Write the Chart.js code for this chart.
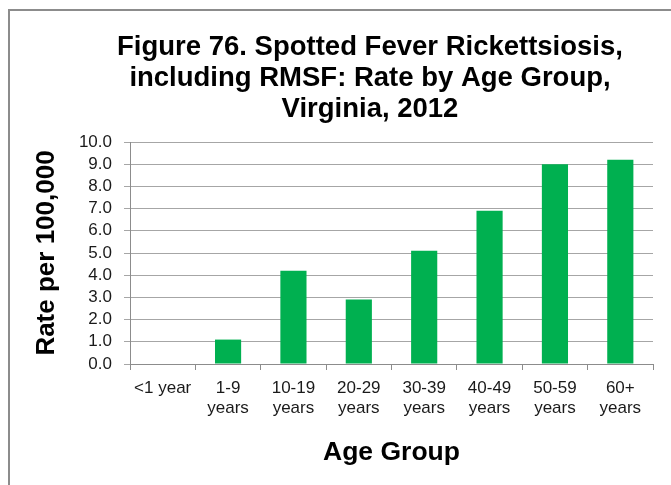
<!DOCTYPE html>
<html lang="en">
<head>
    <meta charset="UTF-8">
    <title>Spotted Fever Rickettsiosis by Age Group, Virginia, 2012</title>
    <script src="https://cdn.jsdelivr.net/npm/chart.js"></script>
    <style>
        html, body {
            margin: 0;
            padding: 0;
            background: #ffffff;
            overflow: hidden;
        }
        .frame {
            position: absolute;
            left: 8px;
            top: 9px;
            right: -20px;
            bottom: -20px;
            border-top: 2px solid #8c8c8c;
            border-left: 2px solid #8c8c8c;
        }
        .chart-container {
            position: absolute;
            left: 0;
            top: 0;
            width: 671px;
            height: 485px;
        }
    </style>
</head>
<body>
    <div class="frame"></div>
    <div class="chart-container">
        <canvas id="barChart"></canvas>
    </div>

    <script>
        // chart data
        const titleLines = [
            'Figure 76. Spotted Fever Rickettsiosis,',
            'including RMSF: Rate by Age Group,',
            'Virginia, 2012'
        ];
        const ageGroups = [
            '<1 year',
            ['1-9', 'years'],
            ['10-19', 'years'],
            ['20-29', 'years'],
            ['30-39', 'years'],
            ['40-49', 'years'],
            ['50-59', 'years'],
            ['60+', 'years']
        ];
        const rates = [0, 1.1, 4.2, 2.9, 5.1, 6.9, 9.0, 9.2];

        const fontFamily = '"Liberation Sans", Arial, sans-serif';

        // main title drawn above the plot, slightly left of centre like the original
        const figureTitle = {
            id: 'figureTitle',
            afterDraw(chart) {
                const ctx = chart.ctx;
                ctx.save();
                ctx.font = 'bold 27.5px ' + fontFamily;
                ctx.fillStyle = '#000000';
                ctx.textAlign = 'center';
                ctx.textBaseline = 'alphabetic';
                titleLines.forEach((line, i) => {
                    ctx.fillText(line, 370, 55 + i * 31);
                });
                ctx.restore();
            }
        };

        const ctx = document.getElementById('barChart').getContext('2d');
        new Chart(ctx, {
            type: 'bar',
            data: {
                labels: ageGroups,
                datasets: [{
                    label: 'Rate per 100,000',
                    data: rates,
                    backgroundColor: '#00b050',
                    borderWidth: 0,
                    barPercentage: 0.4,
                    categoryPercentage: 1.0
                }]
            },
            options: {
                responsive: true,
                maintainAspectRatio: false,
                animation: false,
                layout: {
                    padding: { top: 142, right: 18, left: 0, bottom: 0 }
                },
                plugins: {
                    legend: { display: false },
                    title: { display: false },
                    tooltip: { enabled: false }
                },
                scales: {
                    x: {
                        offset: true,
                        afterFit(scale) { scale.height = 121; },
                        grid: {
                            offset: true,
                            drawOnChartArea: false,
                            drawTicks: true,
                            tickLength: 6,
                            color: '#8c8c8c'
                        },
                        border: { color: '#8c8c8c', width: 1 },
                        ticks: {
                            color: '#1a1a1a',
                            padding: 8,
                            maxRotation: 0,
                            autoSkip: false,
                            font: { family: fontFamily, size: 17, lineHeight: '20px' }
                        },
                        title: {
                            display: true,
                            text: 'Age Group',
                            color: '#000000',
                            padding: { top: 0, bottom: 16 },
                            font: { family: fontFamily, size: 26.5, weight: 'bold' }
                        }
                    },
                    y: {
                        min: 0,
                        max: 10,
                        afterFit(scale) { scale.width = 130; },
                        grid: {
                            color: '#a6a6a6',
                            drawTicks: true,
                            tickLength: 6
                        },
                        border: { color: '#8c8c8c', width: 1 },
                        ticks: {
                            stepSize: 1,
                            autoSkip: false,
                            color: '#1a1a1a',
                            padding: 12,
                            font: { family: fontFamily, size: 17 },
                            callback: (value) => value.toFixed(1)
                        },
                        title: {
                            display: true,
                            text: 'Rate per 100,000',
                            color: '#000000',
                            padding: { top: 31, bottom: 0 },
                            font: { family: fontFamily, size: 26, weight: 'bold' }
                        }
                    }
                }
            },
            plugins: [figureTitle]
        });
    </script>
</body>
</html>
